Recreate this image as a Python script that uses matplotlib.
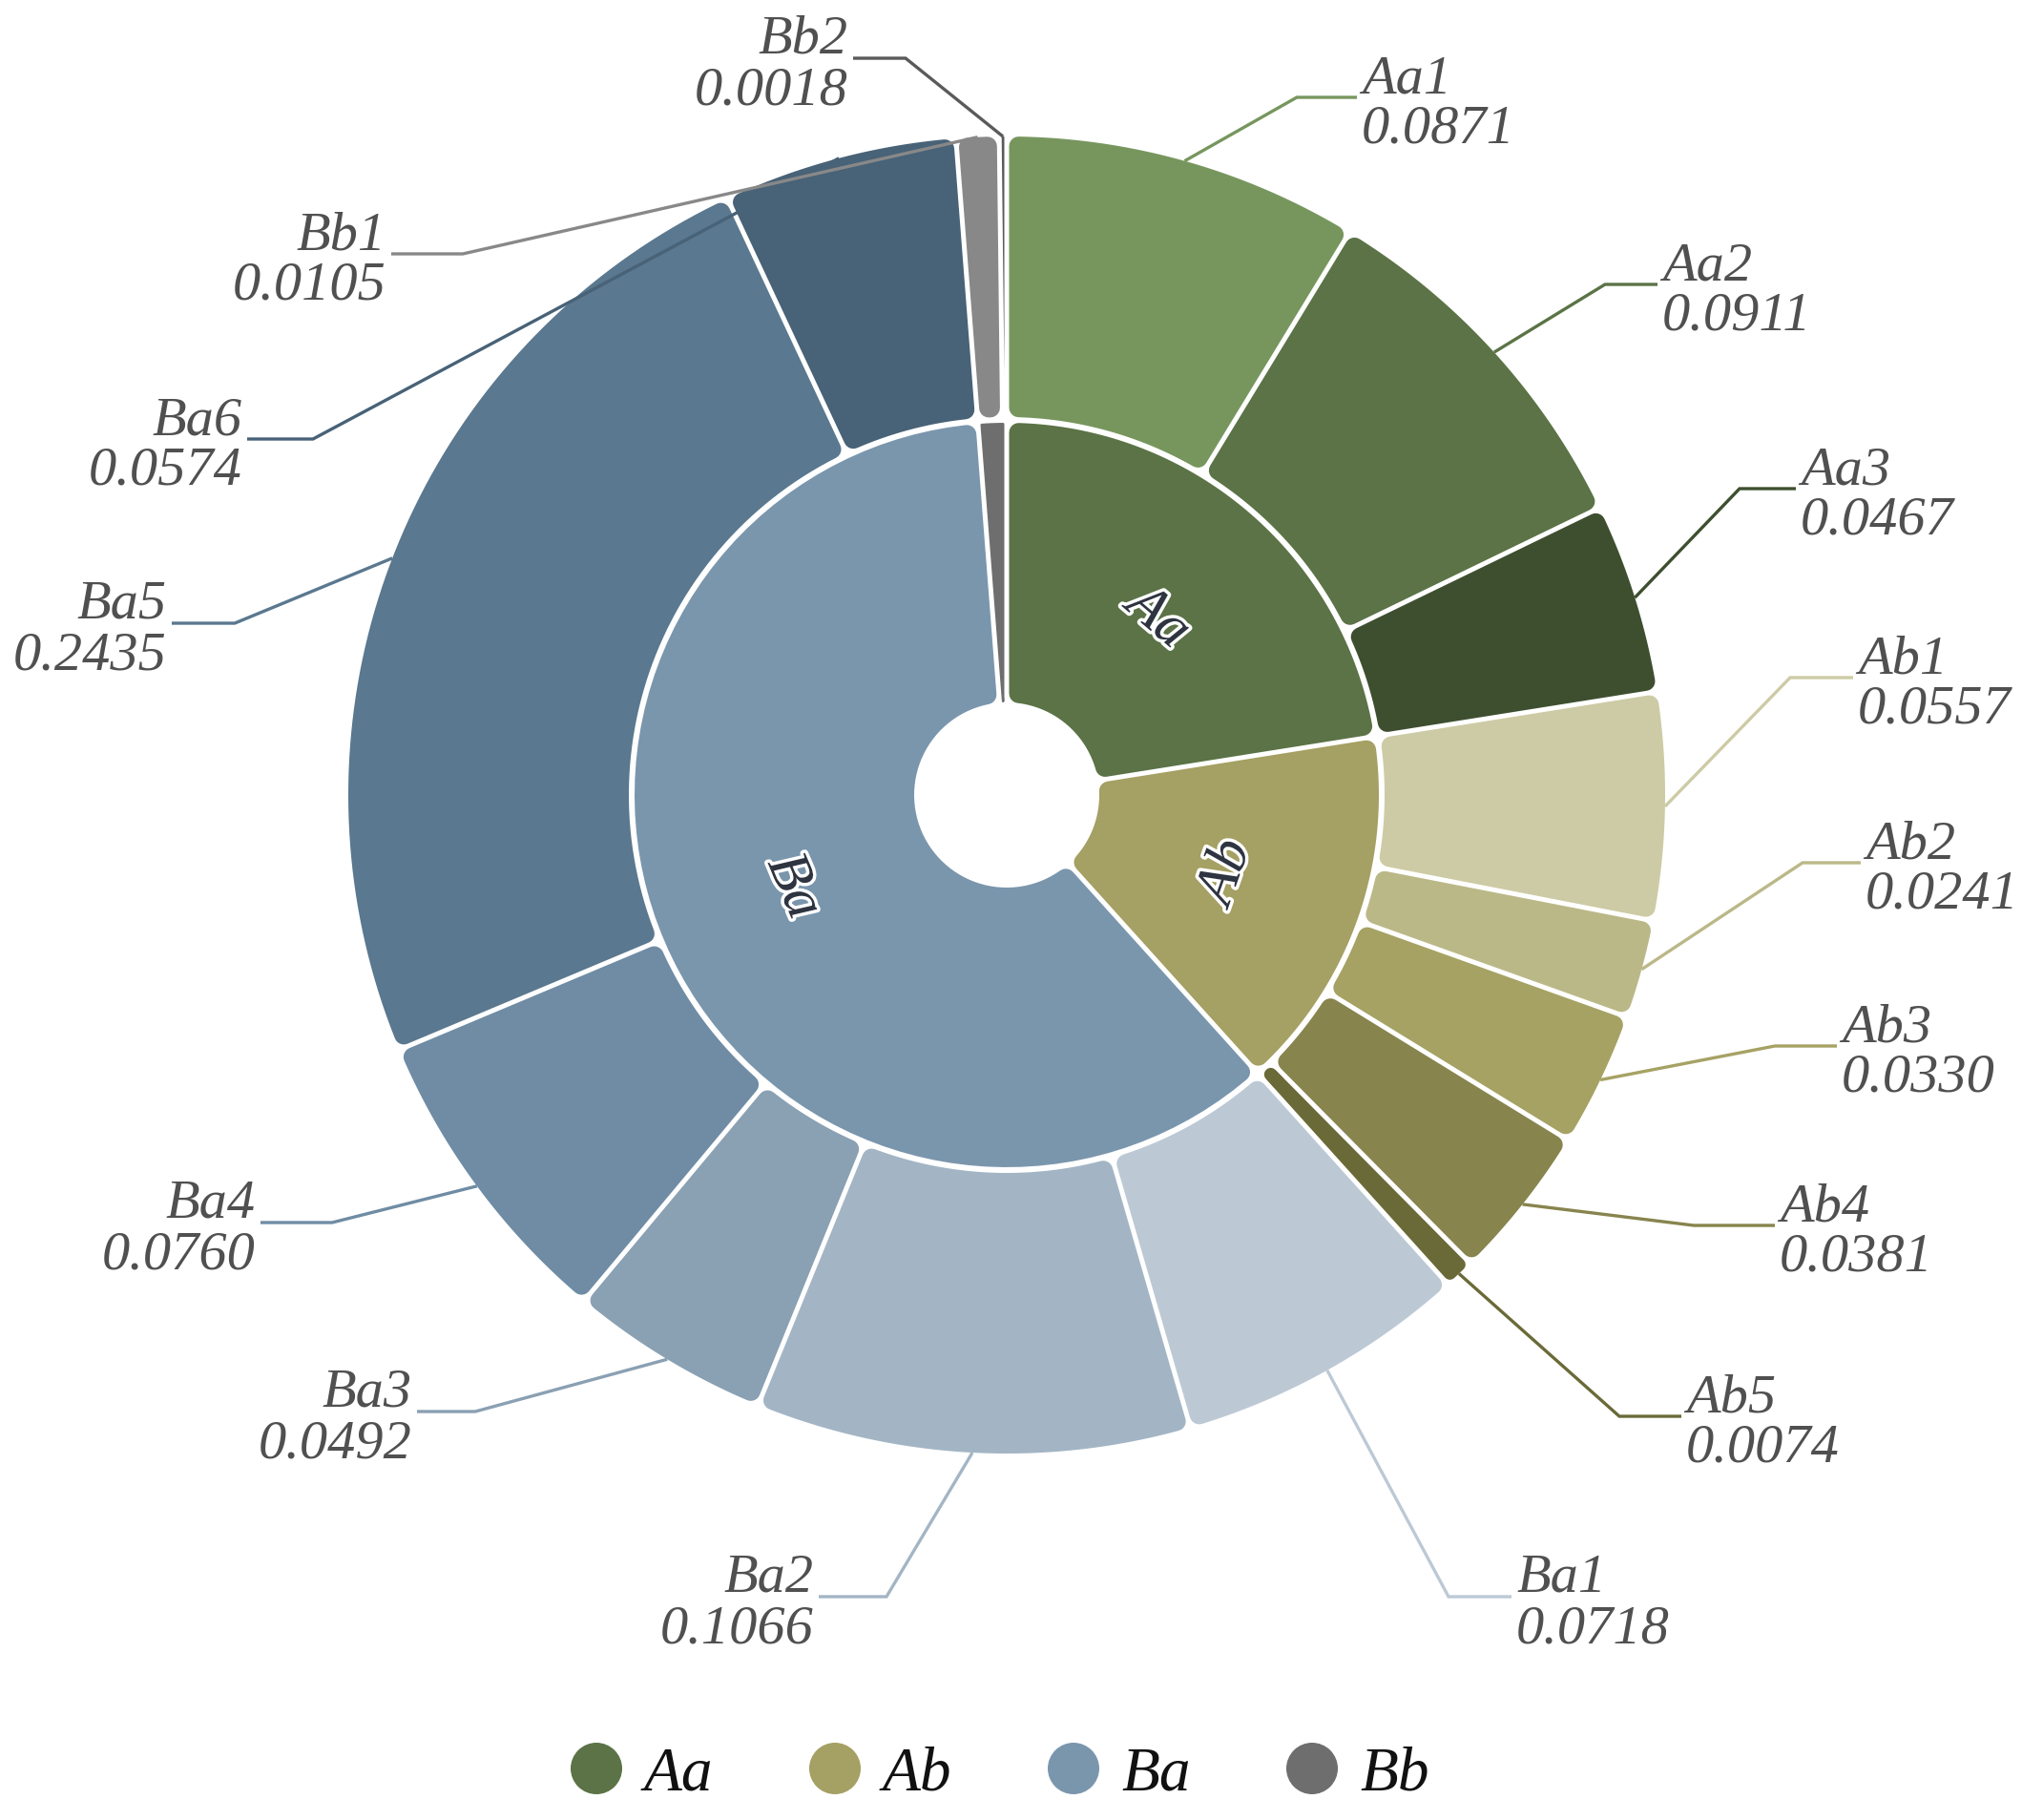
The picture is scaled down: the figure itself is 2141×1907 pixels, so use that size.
import numpy as np
import matplotlib
matplotlib.use("Agg")
import matplotlib.pyplot as plt
from matplotlib.patches import Polygon, Circle
import matplotlib.patheffects as pe

# ---------------- data ----------------
groups = ["Aa", "Ab", "Ba", "Bb"]
group_colors = ["#5b7346", "#a5a063", "#7a96ad", "#6e6e6e"]

leaf_names = ["Aa1", "Aa2", "Aa3",
              "Ab1", "Ab2", "Ab3", "Ab4", "Ab5",
              "Ba1", "Ba2", "Ba3", "Ba4", "Ba5", "Ba6",
              "Bb1", "Bb2"]
leaf_values = [0.0871, 0.0911, 0.0467,
               0.0557, 0.0241, 0.0330, 0.0381, 0.0074,
               0.0718, 0.1066, 0.0492, 0.0760, 0.2435, 0.0574,
               0.0105, 0.0018]
leaf_groups = ["Aa", "Aa", "Aa",
               "Ab", "Ab", "Ab", "Ab", "Ab",
               "Ba", "Ba", "Ba", "Ba", "Ba", "Ba",
               "Bb", "Bb"]
leaf_colors = ["#77965e", "#5b7346", "#3e4f30",
               "#cdcba5", "#bbb888", "#a6a264", "#87844e", "#6a6a38",
               "#bcc9d5", "#a3b5c5", "#8aa0b3", "#6f8ca4", "#5a788f", "#486277",
               "#888888", "#5a5a5a"]

# ---------------- layout (pixels) ----------------
W, H, DPI = 2141, 1907, 100
CX, CY = 1055, 833
R_HOLE, R_MID_IN, R_MID_OUT, R_OUT = 97, 390, 396, 690
GAP, RC = 5.0, 10.0

# label elbow point and end of horizontal segment (per leaf)
lab_elbow_x = [1359, 1682, 1823, 1876, 1889, 1860, 1775, 1697, 1518,
               929, 498, 348, 246, 328, 485, 949]
lab_elbow_y = [102, 298, 512, 710, 904, 1096, 1284, 1484, 1673,
               1673, 1479, 1281, 653, 460, 266, 61]
lab_end_x = [1422, 1737, 1882, 1942, 1950, 1925, 1860, 1762, 1584,
             858, 437, 273, 180, 259, 410, 894]

LABEL_FONT = dict(family=["Liberation Serif", "DejaVu Serif"], style="italic")


def pt(px):
    return px * 72.0 / DPI


def xy(r, phi):
    return CX + r * np.sin(phi), CY - r * np.cos(phi)


def rounded_sector(ax, p1, p2, ri, ro, color, z=2):
    dphi = p2 - p1
    hw_in = ri * np.sin(dphi / 2) - GAP / 2
    rc = max(0.0, min(RC, hw_in))
    d = GAP / 2 + rc
    rin, rout = ri + rc, ro - rc

    def off(r):
        return min(np.arcsin(min(1.0, d / r)), dphi / 2)

    pts = []
    for a in np.linspace(p1 + off(rout), p2 - off(rout), 80):
        pts.append(xy(rout, a))
    for r in np.linspace(rout, rin, 25):
        pts.append(xy(r, p2 - off(r)))
    for a in np.linspace(p2 - off(rin), p1 + off(rin), 60):
        pts.append(xy(rin, a))
    for r in np.linspace(rin, rout, 25):
        pts.append(xy(r, p1 + off(r)))
    poly = Polygon(pts, closed=True, facecolor=color,
                   edgecolor=color if rc > 0 else "none",
                   linewidth=pt(2 * rc), joinstyle="round", zorder=z)
    ax.add_patch(poly)


fig = plt.figure(figsize=(W / DPI, H / DPI), dpi=DPI)
ax = fig.add_axes([0, 0, 1, 1])
ax.set_xlim(0, W)
ax.set_ylim(H, 0)
ax.axis("off")

total = float(sum(leaf_values))
fr = np.array(leaf_values) / total
cum = np.concatenate([[0.0], np.cumsum(fr)]) * 2 * np.pi

# outer ring
for i in range(len(leaf_names)):
    rounded_sector(ax, cum[i], cum[i + 1], R_MID_OUT, R_OUT, leaf_colors[i])

# inner ring
gstart = 0.0
for g, gc in zip(groups, group_colors):
    gval = sum(v for v, lg in zip(leaf_values, leaf_groups) if lg == g) / total
    p1, p2 = gstart * 2 * np.pi, (gstart + gval) * 2 * np.pi
    rounded_sector(ax, p1, p2, R_HOLE, R_MID_IN, gc)
    if gval > 0.05:
        pm = (p1 + p2) / 2
        tx, ty = xy((R_HOLE + R_MID_IN) / 2, pm)
        theta = 90 - np.degrees(pm)
        rot = theta + 90
        while rot > 90:
            rot -= 180
        while rot <= -90:
            rot += 180
        ax.text(tx, ty, g, rotation=rot, rotation_mode="anchor",
                ha="center", va="center", fontsize=44, color="#2e3440",
                path_effects=[pe.withStroke(linewidth=5, foreground="white")],
                zorder=6, **LABEL_FONT)
    gstart += gval

# leader lines and labels
for i in range(len(leaf_names)):
    pm = (cum[i] + cum[i + 1]) / 2
    sx, sy = xy(R_OUT, pm)
    ex, ey, endx = lab_elbow_x[i], lab_elbow_y[i], lab_end_x[i]
    ax.plot([sx, ex, endx], [sy, ey, ey], color=leaf_colors[i], lw=2.4,
            solid_joinstyle="miter", solid_capstyle="butt", zorder=5)
    right = endx > ex
    tx = endx + 5 if right else endx - 5
    ha = "left" if right else "right"
    ax.text(tx, ey - 5, leaf_names[i], ha=ha, va="baseline", fontsize=42,
            color="#505050", zorder=6, **LABEL_FONT)
    ax.text(tx, ey + 48, f"{leaf_values[i]:.4f}", ha=ha, va="baseline",
            fontsize=42, color="#505050", zorder=6, **LABEL_FONT)

# legend
LEG_X0, LEG_DX, LEG_Y = 625, 250, 1853
for k, (g, gc) in enumerate(zip(groups, group_colors)):
    lx = LEG_X0 + k * LEG_DX
    ax.add_patch(Circle((lx, LEG_Y), 27, facecolor=gc, edgecolor="none", zorder=5))
    ax.text(lx + 50, LEG_Y + 22, g, ha="left", va="baseline", fontsize=47,
            color="#111111", zorder=6, **LABEL_FONT)

fig.savefig("out.png", dpi=DPI, facecolor="white")
